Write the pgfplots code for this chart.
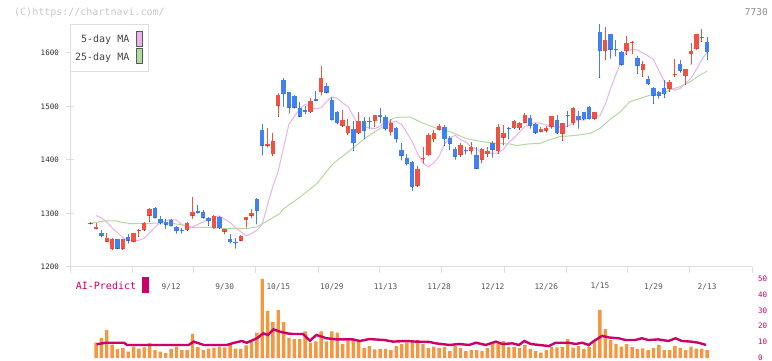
\documentclass[border=0pt]{standalone}
\usepackage{pgfplots}
\pgfplotsset{compat=1.18}
\usepackage{pgfplotstable}
\usepackage{fontspec}
\setmainfont{DejaVu Sans Mono}
\newcommand\fs[1]{\fontsize{#1}{#1}\selectfont}
\definecolor{cred}{RGB}{240,82,66}
\definecolor{cblue}{RGB}{64,128,240}
\definecolor{mafive}{RGB}{234,178,234}
\definecolor{matwfive}{RGB}{178,218,160}
\definecolor{volor}{RGB}{242,152,64}
\definecolor{aimag}{RGB}{204,0,102}
\definecolor{axisgray}{RGB}{222,222,222}
\definecolor{labgray}{RGB}{45,45,45}
\definecolor{leggray}{RGB}{70,70,70}
\definecolor{dategray}{RGB}{85,85,85}
\definecolor{wmgray}{RGB}{200,200,200}

\pgfplotstableread{
i O H L C
0 1281 1284 1280 1283
1 1271 1282 1271 1274
3 1247 1264 1247 1255
4 1234 1255 1232 1252
6 1234 1253 1232 1252
8 1247 1264 1247 1263
9 1268 1271 1257 1270
10 1269 1284 1268 1283
11 1296 1311 1285 1308
18 1269 1284 1268 1282
19 1296 1330 1291 1303
23 1272 1297 1272 1295
25 1266 1271 1262 1271
28 1249 1259 1249 1258
29 1288 1293 1274 1293
30 1296 1308 1293 1300
33 1427 1459 1424 1430
34 1411 1451 1408 1436
35 1501 1525 1481 1521
41 1489 1515 1488 1510
43 1528 1576 1521 1553
47 1464 1494 1462 1475
48 1450 1476 1447 1464
50 1450 1489 1449 1473
53 1473 1485 1462 1484
56 1452 1477 1446 1470
61 1352 1388 1350 1383
62 1401 1425 1394 1403
63 1409 1450 1409 1447
64 1439 1456 1434 1451
65 1456 1467 1456 1464
69 1410 1431 1406 1428
71 1416 1434 1411 1425
73 1400 1423 1394 1420
74 1411 1425 1406 1417
76 1416 1467 1412 1461
77 1442 1465 1428 1450
79 1459 1474 1458 1473
80 1459 1471 1457 1470
81 1470 1487 1469 1484
84 1453 1462 1452 1457
85 1455 1464 1452 1460
86 1462 1483 1459 1482
88 1449 1470 1436 1469
90 1470 1499 1465 1497
94 1477 1490 1476 1489
96 1603 1649 1587 1624
100 1604 1632 1597 1619
101 1619 1623 1598 1621
103 1568 1585 1556 1579
108 1533 1550 1528 1546
109 1559 1588 1556 1561
111 1557 1570 1541 1570
112 1598 1619 1579 1604
113 1608 1636 1607 1636
114 1628 1645 1621 1630
}\uptable

\pgfplotstableread{
i O H L C
2 1264 1269 1256 1258
5 1252 1252 1234 1234
7 1256 1262 1244 1249
12 1311 1312 1291 1292
13 1289 1295 1280 1282
14 1285 1289 1272 1279
15 1288 1289 1276 1277
16 1275 1277 1263 1268
17 1270 1273 1263 1268
20 1305 1316 1300 1301
21 1302 1307 1291 1292
22 1292 1293 1277 1286
24 1294 1295 1272 1272
26 1252 1262 1244 1246
27 1246 1254 1235 1244
31 1327 1329 1280 1305
32 1456 1467 1409 1427
36 1550 1553 1500 1523
37 1527 1527 1487 1498
38 1520 1522 1497 1498
39 1497 1509 1481 1481
40 1493 1500 1486 1490
42 1514 1529 1510 1511
44 1538 1543 1525 1526
45 1512 1518 1474 1475
46 1489 1491 1467 1469
49 1458 1473 1417 1431
51 1473 1481 1440 1455
52 1473 1481 1459 1471
54 1484 1497 1469 1480
55 1480 1484 1456 1458
57 1459 1462 1433 1440
58 1419 1431 1400 1408
59 1403 1412 1390 1392
60 1397 1398 1343 1349
66 1461 1466 1427 1439
67 1442 1444 1419 1430
68 1421 1425 1401 1406
70 1418 1425 1411 1416
72 1410 1424 1384 1384
75 1431 1436 1405 1419
78 1460 1462 1439 1458
82 1478 1484 1459 1464
83 1467 1469 1449 1451
87 1475 1484 1449 1450
89 1484 1492 1462 1482
91 1482 1492 1459 1474
92 1489 1490 1475 1476
93 1499 1500 1476 1477
95 1639 1654 1554 1604
97 1636 1636 1590 1606
98 1607 1624 1594 1605
99 1601 1604 1577 1578
102 1591 1594 1561 1576
104 1552 1557 1541 1542
105 1534 1537 1505 1520
106 1528 1529 1515 1520
107 1534 1550 1516 1523
110 1580 1586 1564 1566
115 1621 1630 1587 1601
}\downtable

\pgfplotstableread{
x v
1 1296
2 1292
3 1284
4 1273
5 1264.4
6 1254.6
7 1250.2
8 1248.4
9 1250
10 1253.6
11 1263.4
12 1274.6
13 1283.2
14 1287
15 1288.8
16 1287.6
17 1279.6
18 1274.8
19 1274.8
20 1279.6
21 1284.4
22 1289.2
23 1292.8
24 1295.4
25 1289.2
26 1283.2
27 1274
28 1265.8
29 1258.4
30 1262.6
31 1268.4
32 1280.2
33 1316.6
34 1351
35 1379.6
36 1423.8
37 1467.4
38 1481.6
39 1495.2
40 1504.2
41 1498
42 1495.4
43 1498
44 1509
45 1518
46 1515
47 1506.8
48 1499.6
49 1481.8
50 1462.8
51 1462.4
52 1459.6
53 1458.8
54 1462.8
55 1472.6
56 1469.6
57 1472.6
58 1466.4
59 1451.2
60 1433.6
61 1411.8
62 1394.4
63 1387
64 1394.8
65 1406.6
66 1429.6
67 1440.8
68 1446.2
69 1438
70 1433.4
71 1423.8
72 1421
73 1411.8
74 1414.6
75 1412.4
76 1413
77 1420.2
78 1433.4
79 1441
80 1452.2
81 1462.4
82 1467
83 1469.8
84 1468.4
85 1465.2
86 1463.2
87 1462.8
88 1460
89 1463.6
90 1468.6
91 1476
92 1474.4
93 1479.6
94 1481.2
95 1482.6
96 1504
97 1534
98 1560
99 1585.6
100 1603.4
101 1606.4
102 1605.8
103 1599.8
104 1594.6
105 1587.4
106 1567.6
107 1547.4
108 1536.8
109 1530.2
110 1534
111 1543.2
112 1553.2
113 1569.4
114 1587.4
115 1601.2
}\mafivetable

\pgfplotstableread{
x v
0.06 1282
1.9 1285
2.6 1286
5.0 1286
5.6 1284
7.5 1281
9.9 1281
12.1 1282
14.9 1282
16.2 1280
17.4 1278
18.5 1274
22.3 1274
24.7 1272
29.1 1272
31.0 1275
32.8 1285
35.3 1300
35.9 1308
39.1 1331
42.2 1356
45.2 1393
48.4 1418
51.5 1443
54.5 1462
56.4 1478
57.5 1480
59.6 1480
62.0 1469
64.6 1459
67.0 1453
70.1 1440
73.2 1434
75.7 1431
78.2 1430
79.5 1427
81.6 1430
83.8 1431
85.7 1438
87.6 1444
89.4 1445
91.3 1447
93.2 1450
95.0 1459
96.9 1476
98.8 1490
100.6 1509
102.5 1515
104.3 1521
106.2 1523
108.1 1531
109.9 1537
111.8 1546
113.7 1559
115.0 1566
}\matwfivetable

\pgfplotstableread{
i v
1 9.6
2 12.6
3 17.6
4 8.4
5 5.7
6 6.3
7 4.0
8 7.1
9 5.9
10 6.7
11 9.4
12 5.0
13 4.0
14 3.1
15 5.7
16 7.1
17 5.0
18 5.0
19 15.1
20 6.9
21 5.0
22 5.9
23 6.5
24 7.1
25 6.7
26 9.4
27 5.9
28 5.7
29 8.0
30 10.5
31 15.9
32 49.7
33 29.6
34 22.6
35 30.2
36 22.6
37 12.6
38 11.9
39 11.9
40 16.8
41 9.6
42 10.5
43 16.8
44 10.5
45 16.8
46 15.9
47 8.8
48 10.9
49 11.7
50 10.9
51 6.3
52 7.5
53 5.5
54 5.7
55 5.7
56 5.0
57 7.5
58 8.8
59 9.9
60 10.2
61 11.3
62 8.8
63 6.3
64 7.1
65 6.3
66 6.9
67 4.4
68 7.5
69 6.3
70 4.4
71 5.0
72 5.0
73 4.4
74 6.3
75 8.8
76 8.8
77 10.7
78 6.9
79 6.9
80 6.3
81 8.2
82 5.7
83 4.4
84 3.4
85 5.0
86 6.9
87 6.7
88 6.9
89 11.9
90 6.5
91 7.5
92 5.7
93 7.1
94 10.3
95 30.2
96 18.2
97 11.3
98 8.8
99 7.1
100 8.8
101 6.9
102 5.7
103 6.1
104 5.0
105 6.3
106 8.2
107 5.0
108 5.0
109 7.5
110 6.3
111 5.0
112 7.1
113 5.9
114 5.9
115 5.0
}\voltable

\pgfplotstableread{
x v
1.1 8.6
2.8 9.6
6.2 9.6
6.8 8.2
18.3 8.2
19.2 10.3
21.1 8.2
25.4 8.2
26.8 9.6
28.2 10.7
29.1 9.6
31.0 12.4
32.2 15.5
33.1 14.5
34.1 18.0
35.3 16.6
36.6 15.5
37.8 15.1
39.6 15.1
40.9 10.9
42.1 14.5
44.0 12.4
45.9 11.7
48.9 11.7
50.2 10.7
52.0 11.9
54.8 11.3
56.4 10.3
58.9 10.7
60.7 10.3
63.2 10.1
64.4 9.2
66.9 8.2
68.8 8.8
70.6 8.2
71.9 9.6
73.7 8.2
75.6 10.3
76.8 8.8
78.7 9.2
79.9 8.2
80.9 10.7
82.1 8.8
85.5 7.5
86.7 9.6
89.2 9.6
90.5 8.8
91.7 9.6
92.9 8.2
93.9 10.7
95.4 13.9
96.7 12.9
98.5 12.4
99.8 11.3
101.6 11.3
102.8 12.4
104.1 11.3
105.9 11.7
107.8 10.7
109.1 12.4
110.3 10.7
112.0 10.3
113.4 9.6
114.8 8.2
}\aitable

\begin{document}
\begin{tikzpicture}
\path[use as bounding box] (0,0) rectangle (772bp,361bp);
\fill[white] (0,0) rectangle (772bp,361bp);

\begin{axis}[
  at={(70bp,94bp)}, anchor=south west, scale only axis,
  width=682bp, height=243bp,
  xmin=-3.86, xmax=123.38, ymin=1200, ymax=1654.2,
  axis lines*=left,
  axis line style={draw=axisgray, line width=1bp},
  clip=false,
  scaled y ticks=false,
  /pgf/number format/1000 sep={},
  /pgf/number format/assume math mode=true,
  ytick={1200,1300,1400,1500,1600},
  tick align=center,
  major tick length=8bp,
  ytick style={draw=axisgray, line width=1bp},
  yticklabel style={font=\fs{7.5bp}, text=labgray, anchor=east, inner sep=0pt, xshift=-7bp},
  xtick={15,25,...,115},
  xticklabels={9/12,9/30,10/15,10/29,11/13,11/28,12/12,12/26,1/15,1/29,2/13},
  xtick style={draw=none},
  xticklabel style={font=\fs{7.8bp}, text=dategray, anchor=center, inner sep=0pt, yshift=-15.5bp},
  extra x ticks={-3.68,7.89,19.27,30.84,42.41,53.97,65.54,77.11,88.68,100.24,111.81,123.38},
  extra x tick labels={},
  extra x tick style={xtick style={draw=axisgray, line width=1bp}, tick align=outside, major tick length=6bp},
]
\addplot[matwfive, line width=1bp, forget plot] table[x=x,y=v] {\matwfivetable};
\addplot[mafive, line width=1bp, forget plot] table[x=x,y=v] {\mafivetable};
% wicks
\addplot[only marks, mark=*, mark size=0.01pt, mark options={draw=none,fill=none}, forget plot,
  error bars/.cd, y dir=plus, y explicit, error mark=none,
  error bar style={draw=cred, line width=1bp}]
  table[x=i, y=L, y error expr=\thisrow{H}-\thisrow{L}] {\uptable};
\addplot[only marks, mark=*, mark size=0.01pt, mark options={draw=none,fill=none}, forget plot,
  error bars/.cd, y dir=plus, y explicit, error mark=none,
  error bar style={draw=cblue, line width=1bp}]
  table[x=i, y=L, y error expr=\thisrow{H}-\thisrow{L}] {\downtable};
% bodies
\addplot[only marks, mark=*, mark size=0.01pt, mark options={draw=none,fill=none}, forget plot,
  error bars/.cd, y dir=plus, y explicit, error mark=none,
  error bar style={draw=cred, line width=4.4bp}]
  table[x=i, y=O, y error expr=\thisrow{C}-\thisrow{O}] {\uptable};
\addplot[only marks, mark=*, mark size=0.01pt, mark options={draw=none,fill=none}, forget plot,
  error bars/.cd, y dir=plus, y explicit, error mark=none,
  error bar style={draw=cblue, line width=4.4bp}]
  table[x=i, y=C, y error expr=\thisrow{O}-\thisrow{C}] {\downtable};
\end{axis}

\begin{axis}[
  at={(70bp,3bp)}, anchor=south west, scale only axis,
  width=682bp, height=79.5bp,
  xmin=-3.86, xmax=123.38, ymin=0, ymax=50,
  axis line style={draw=none},
  xtick=\empty,
  ytick={0,10,20,30,40,50},
  yticklabel pos=right,
  major tick length=0pt,
  /pgf/number format/assume math mode=true,
  yticklabel style={font=\fs{7.5bp}, text=aimag, anchor=west, inner sep=0pt, xshift=6bp},
  clip=false,
]
\addplot[ybar, bar width=3.4bp, fill=volor, draw=none, forget plot] table[x=i,y=v] {\voltable};
\addplot[aimag, line width=2.4bp, forget plot] table[x=x,y=v] {\aitable};
\end{axis}

% legend
\draw[draw=axisgray, fill=white, line width=1bp] (70.3bp,289.7bp) rectangle (148.3bp,336.7bp);
\node[anchor=east, inner sep=0pt, text=leggray, font=\fs{10bp}] at (129.5bp,321bp) {5-day MA};
\node[anchor=east, inner sep=0pt, text=leggray, font=\fs{10bp}] at (129.5bp,303.7bp) {25-day MA};
\filldraw[fill=mafive, draw=black!65, line width=0.9bp] (136.5bp,314.3bp) rectangle (142.5bp,330bp);
\filldraw[fill=matwfive, draw=black!65, line width=0.9bp] (136.5bp,297.7bp) rectangle (142.5bp,312.7bp);
% watermark and code
\node[anchor=west, inner sep=0pt, text=wmgray, font=\fs{10bp}] at (14bp,348.5bp) {(C)https://chartnavi.com/};
\node[anchor=east, inner sep=0pt, text=black!45, font=\fs{9.5bp}] at (768bp,348.5bp) {7730};
% AI-Predict label
\node[anchor=west, inner sep=0pt, text=aimag, font=\fs{10bp}] at (75.7bp,75bp) {AI-Predict};
\fill[aimag] (142.3bp,67.7bp) rectangle (149bp,84.3bp);
\end{tikzpicture}
\end{document}
